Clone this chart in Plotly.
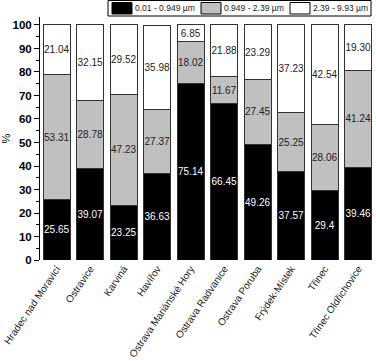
import plotly.graph_objects as go

categories = ["Hradec nad Moravicí", "Ostravice", "Karviná", "Havířov",
              "Ostrava Mariánské Hory", "Ostrava Radvanice", "Ostrava Poruba",
              "Frýdek-Místek", "Třinec", "Třinec Oldřichovice"]
fine = [25.65, 39.07, 23.25, 36.63, 75.14, 66.45, 49.26, 37.57, 29.4, 39.46]
fine_txt = ["25.65", "39.07", "23.25", "36.63", "75.14", "66.45", "49.26", "37.57", "29.4", "39.46"]
mid = [53.31, 28.78, 47.23, 27.37, 18.02, 11.67, 27.45, 25.25, 28.06, 41.24]
mid_txt = ["53.31", "28.78", "47.23", "27.37", "18.02", "11.67", "27.45", "25.25", "28.06", "41.24"]
coarse = [21.04, 32.15, 29.52, 35.98, 6.85, 21.88, 23.29, 37.23, 42.54, 19.30]
coarse_txt = ["21.04", "32.15", "29.52", "35.98", "6.85", "21.88", "23.29", "37.23", "42.54", "19.30"]
series_names = ["0.01 - 0.949 µm", "0.949 - 2.39 µm", "2.39 - 9.93 µm"]
series_colors = ["black", "#c0c0c0", "white"]
text_colors = ["white", "#222222", "#222222"]

W, H = 376, 361
ML, MR, MT, MB = 40, 1, 17, 101
PW, PH = W - ML - MR, H - MT - MB

def px(x):
    return (x - ML) / PW

def py(y):
    return (H - MB - y) / PH

fig = go.Figure()
for vals, txt, col, tcol, name in zip([fine, mid, coarse], [fine_txt, mid_txt, coarse_txt],
                                      series_colors, text_colors, series_names):
    fig.add_trace(go.Bar(
        x=categories, y=vals, name=name, text=txt,
        textposition="inside", insidetextanchor="middle",
        textfont=dict(family="Liberation Sans, Arial", size=10, color=tcol),
        marker=dict(color=col, line=dict(color="#333333", width=1)),
        constraintext="none", textangle=0, showlegend=False,
    ))

# custom legend box (one row, wide swatches)
shapes = [dict(type="rect", xref="paper", yref="paper", x0=px(108), x1=px(371),
               y0=py(16), y1=py(0.5), line=dict(color="black", width=1), fillcolor="white")]
annotations = []
sw_x = [112, 201, 290]
for sx, col, name in zip(sw_x, series_colors, series_names):
    shapes.append(dict(type="rect", xref="paper", yref="paper", x0=px(sx), x1=px(sx + 20),
                       y0=py(14), y1=py(2.5), line=dict(color="black", width=1), fillcolor=col))
    annotations.append(dict(xref="paper", yref="paper", x=px(sx + 21), y=py(8.5),
                            xanchor="left", yanchor="middle", text=name, showarrow=False,
                            font=dict(size=8.5, family="Liberation Sans, Arial", color="#222222")))

fig.update_layout(
    barmode="stack", bargap=0.2,
    width=W, height=H,
    margin=dict(l=ML, r=MR, t=MT, b=MB),
    plot_bgcolor="white", paper_bgcolor="white",
    font=dict(family="Liberation Sans, Arial", color="black"),
    shapes=shapes, annotations=annotations,
    xaxis=dict(range=[-0.5, 9.5], tickangle=-56, showline=False, ticks="",
               tickfont=dict(size=10, color="#222222"), showgrid=False, automargin=False),
    yaxis=dict(range=[0, 103.4], tickvals=[0, 10, 20, 30, 40, 50, 60, 70, 80, 90, 100],
               ticks="outside", ticklen=5, tickwidth=1, tickcolor="black",
               showline=True, linecolor="black", linewidth=1, showgrid=False, zeroline=False,
               tickfont=dict(size=11.5, family="Liberation Sans, Arial", weight="bold"),
               minor=dict(tickvals=[5, 15, 25, 35, 45, 55, 65, 75, 85, 95], ticks="outside",
                          ticklen=3, tickcolor="black"),
               automargin=False,
               title=dict(text="%", font=dict(size=11), standoff=10)),
)
fig.write_html("out.html", config={"displayModeBar": False},
               post_script="document.body.style.margin='0';")
